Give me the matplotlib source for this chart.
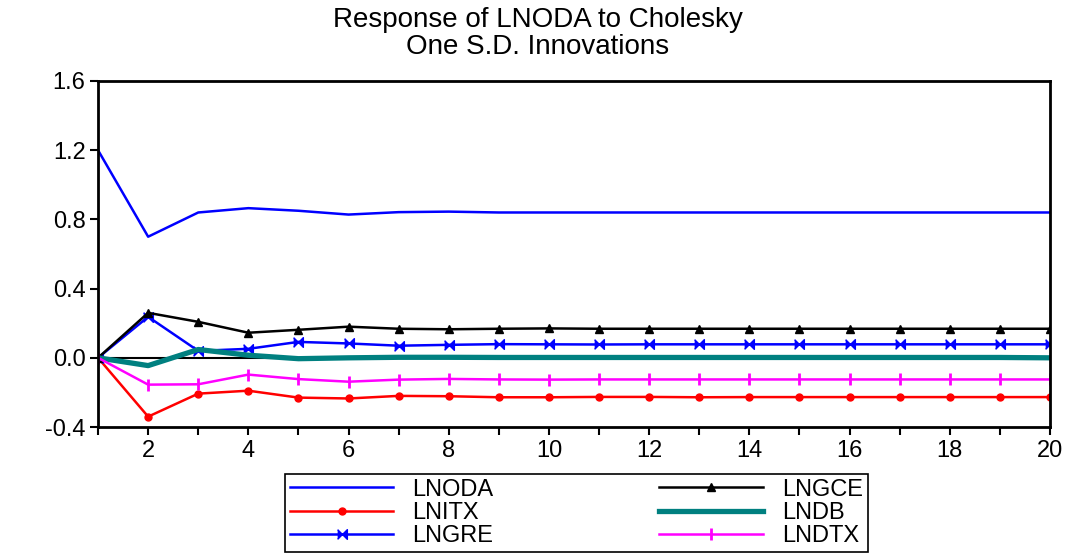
import matplotlib.pyplot as plt

plt.rcParams['font.family'] = ['Liberation Sans', 'DejaVu Sans']

periods = list(range(1, 21))

lnoda = [1.20, 0.70, 0.84, 0.865, 0.85, 0.828, 0.842, 0.845, 0.84, 0.84,
         0.84, 0.84, 0.84, 0.84, 0.84, 0.84, 0.84, 0.84, 0.84, 0.84]
lngce = [0.0, 0.26, 0.208, 0.145, 0.162, 0.18, 0.168, 0.165, 0.168, 0.17,
         0.168, 0.168, 0.168, 0.168, 0.168, 0.168, 0.168, 0.168, 0.168, 0.168]
lnitx = [0.0, -0.34, -0.207, -0.19, -0.23, -0.235, -0.22, -0.222, -0.228, -0.228,
         -0.226, -0.226, -0.228, -0.227, -0.227, -0.227, -0.227, -0.227, -0.227, -0.227]
lndb = [0.0, -0.045, 0.048, 0.015, -0.005, 0.0, 0.003, 0.003, 0.002, 0.002,
        0.002, 0.002, 0.002, 0.002, 0.002, 0.002, 0.002, 0.002, 0.002, 0.0]
lngre = [0.0, 0.237, 0.04, 0.052, 0.092, 0.083, 0.07, 0.075, 0.079, 0.078,
         0.077, 0.078, 0.078, 0.078, 0.078, 0.078, 0.078, 0.078, 0.078, 0.078]
lndtx = [0.0, -0.155, -0.153, -0.097, -0.123, -0.138, -0.126, -0.122, -0.125, -0.126,
         -0.125, -0.125, -0.125, -0.125, -0.125, -0.125, -0.125, -0.125, -0.125, -0.125]

y_ticks = [-0.4, 0.0, 0.4, 0.8, 1.2, 1.6]
x_labels = [2, 4, 6, 8, 10, 12, 14, 16, 18, 20]

# sideways hourglass marker used for LNGRE
bowtie = [(-1, -1), (1, 1), (1, -1), (-1, 1)]

fig = plt.figure(figsize=(10.75, 5.54), dpi=100)
ax = fig.add_axes([0.0912, 0.2292, 0.8855, 0.6246])

ax.axhline(0, color='black', lw=1.5, zorder=1)

h1, = ax.plot(periods, lnoda, color='#0000ff', lw=1.8, label='LNODA')
h2, = ax.plot(periods, lnitx, color='#ff0000', lw=1.8, marker='o', ms=5, label='LNITX')
h3, = ax.plot(periods, lngre, color='#0000ff', lw=1.8, marker=bowtie, ms=7, label='LNGRE')
h4, = ax.plot(periods, lngce, color='black', lw=1.8, marker='^', ms=6, label='LNGCE')
h5, = ax.plot(periods, lndb, color='#008080', lw=3.8, label='LNDB')
h6, = ax.plot(periods, lndtx, color='#ff00ff', lw=1.8, marker='|', ms=9, mew=2, label='LNDTX')

ax.set_xlim(1, 20)
ax.set_ylim(-0.4, 1.6)
ax.set_yticks(y_ticks)
ax.set_yticklabels(['-0.4', '0.0', '0.4', '0.8', '1.2', '1.6'])
ax.set_xticks(periods)
ax.set_xticklabels([str(p) if p in x_labels else '' for p in periods])
ax.tick_params(direction='out', length=6, width=1.5, labelsize=17, pad=3)
for sp in ax.spines.values():
    sp.set_linewidth(2)

fig.suptitle('Response of LNODA to Cholesky\nOne S.D. Innovations', fontsize=20,
             y=0.987, linespacing=1.02)

leg = fig.legend(handles=[h1, h2, h3, h4, h5, h6], ncol=2, loc='lower left',
                 bbox_to_anchor=(0.265, 0.004, 0.542, 0.135), mode='expand',
                 fancybox=False, edgecolor='black', framealpha=1, fontsize=17,
                 handlelength=4.4, numpoints=1, labelspacing=0.05, borderpad=0.2,
                 handletextpad=0.8, columnspacing=1.5, borderaxespad=0)
leg.get_frame().set_linewidth(1.2)

fig.savefig('out.png', dpi=100)
